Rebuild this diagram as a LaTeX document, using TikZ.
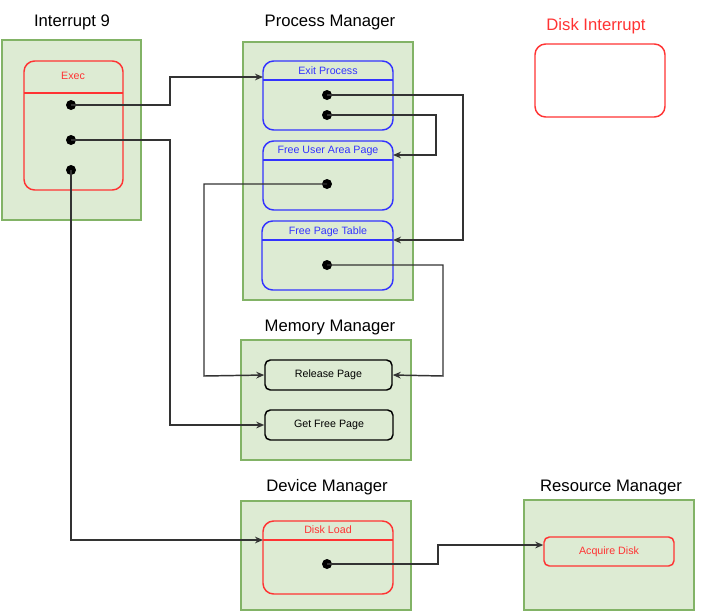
\documentclass[tikz,border=0pt]{standalone}
\usepackage{fontspec}
\setmainfont{Liberation Sans}
\usetikzlibrary{arrows.meta}
\definecolor{grpfill}{RGB}{221,235,211}
\definecolor{grpdraw}{RGB}{130,179,102}
\definecolor{redc}{RGB}{255,51,51}
\definecolor{bluec}{RGB}{51,51,255}
\tikzset{every picture/.style={line width=0.75pt}}
\tikzset{
  grp/.style={draw=grpdraw,fill=grpfill,line width=1.1pt},
  box/.style={line width=1.1pt,rounded corners=8},
  ttl/.style={font=\fontsize{12.5}{14}\selectfont},
  lbl/.style={font=\fontsize{8}{9}\selectfont,inner sep=0.75pt},
  dotn/.style={circle,fill=black,inner sep=0pt,minimum size=7.5pt},
  link/.style={draw=black!80,line width=1.1pt,-{Stealth[length=6pt,width=5pt]}}
}
\begin{document}
\begin{tikzpicture}[x=0.75pt,y=0.75pt,yscale=-1,xscale=1]
\useasboundingbox (0,0) rectangle (711,612);

%Groups
\draw [grp] (2,40) rectangle (141,220);
\draw [grp] (243,42) rectangle (413,300);
\draw [grp] (241,340) rectangle (411,460);
\draw [grp] (241,501) rectangle (411,610);
\draw [grp] (524,500) rectangle (694,610);

% Titles
\node [ttl] (tInt) at (72,22) {Interrupt 9};
\node [ttl] (tProc) at (330,22) {Process Manager};
\node [ttl,text=redc] (tDisk) at (596,26) {Disk Interrupt};
\node [ttl] (tMem) at (330,327) {Memory Manager};
\node [ttl] (tDev) at (327,487) {Device Manager};
\node [ttl] (tRes) at (611,487) {Resource Manager};

%Disk interrupt box
\draw [box,redc] (535,44) rectangle (665,117);

%Exec
\draw [box,redc] (24,61) rectangle (123,190);
\draw [redc,line width=1.1pt] (24,93) -- (123,93);
\node [lbl,text=redc] (exec) at (73,76) {Exec};

%Process manager boxes
\draw [box,bluec] (263,61) rectangle (393,130);
\draw [bluec,line width=1.1pt] (263,80) -- (393,80);
\node [lbl,text=bluec] (exitP) at (328,71) {Exit Process};
\draw [box,bluec] (263,141) rectangle (393,210);
\draw [bluec,line width=1.1pt] (263,160) -- (393,160);
\node [lbl,text=bluec] (freeUA) at (328,151) {Free User Area Page};
\draw [box,bluec] (262,221) rectangle (393,290);
\draw [bluec,line width=1.1pt] (262,240) -- (393,240);
\node [lbl,text=bluec] (freePT) at (328,232) {Free Page Table};

%Memory manager boxes
\node [lbl,draw,line width=1.1pt,rounded corners=4,minimum width=127*0.75pt,minimum height=30*0.75pt] (rel) at (328.5,375) {Release Page};
\node [lbl,draw,line width=1.1pt,rounded corners=4,minimum width=128*0.75pt,minimum height=30*0.75pt] (get) at (329,425) {Get Free Page};

%Device / resource
\draw [box,redc] (263,521) rectangle (393,594);
\draw [redc,line width=1.1pt] (263,540) -- (393,540);
\node [lbl,text=redc] (dload) at (328,530) {Disk Load};
\node [lbl,draw=redc,line width=1.1pt,text=redc,rounded corners=4,minimum width=130*0.75pt,minimum height=29*0.75pt] (acq) at (609,551.5) {Acquire Disk};

% Dots
\node [dotn] (e1) at (71,105) {};
\node [dotn] (e2) at (71,140) {};
\node [dotn] (e3) at (71,170) {};
\node [dotn] (x1) at (327,95) {};
\node [dotn] (x2) at (327,115) {};
\node [dotn] (u1) at (327,184) {};
\node [dotn] (p1) at (327,265) {};
\node [dotn] (d1) at (327,564) {};

\coordinate (exitIn) at (263,77);
\coordinate (freeUAIn) at (393,155);
\coordinate (freePTIn) at (393,240);
\coordinate (dloadIn) at (263,540);

% Connectors
\draw [link] (e1.center) -- (170,105) -- (170,77) -- (exitIn);
\draw [link] (e2.center) -- (170,140) -- (170,425) -- (get.west);
\draw [link] (e3.center) -- (71,540) -- (dloadIn);
\draw [link] (x1.center) -- (463,95) -- (463,240) -- (freePTIn);
\draw [link] (x2.center) -- (436,115) -- (436,155) -- (freeUAIn);
\draw [link] (u1.center) -- (204,184) -- (204,376) -- (rel.west);
\draw [link] (p1.center) -- (443,265) -- (443,376) -- (rel.east);
\draw [link] (d1.center) -- (438,564) -- (438,545) -- (acq.west |- 0,545);

\end{tikzpicture}
\end{document}
